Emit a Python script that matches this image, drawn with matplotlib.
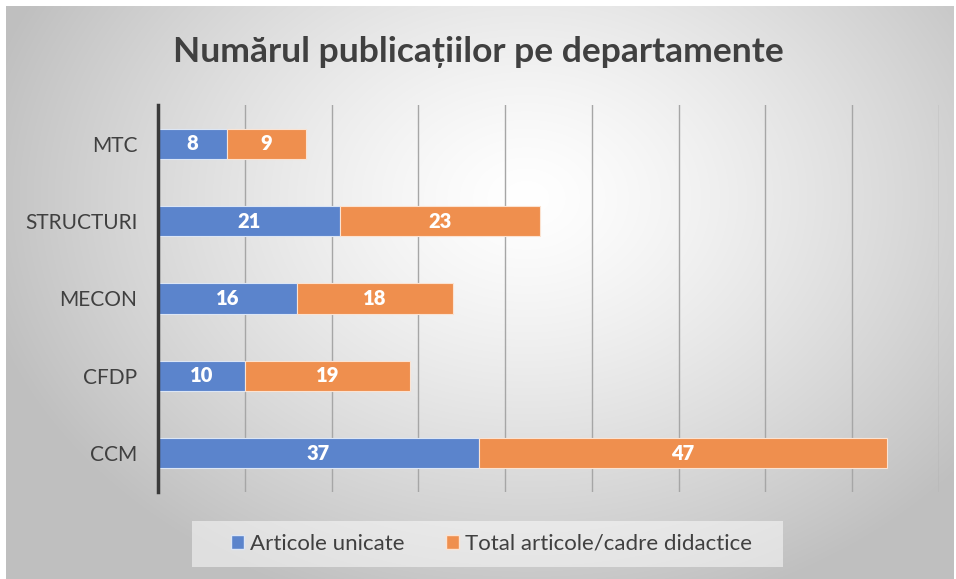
import numpy as np
import matplotlib.pyplot as plt
from matplotlib.patches import Patch, Rectangle

departamente = ['CCM', 'CFDP', 'MECON', 'STRUCTURI', 'MTC']
articole_unicate = [37, 10, 16, 21, 8]
total_articole = [47, 19, 18, 23, 9]

albastru = '#5b84cc'
portocaliu = '#ef8f4e'
text_gri = '#404040'

plt.rcParams['font.family'] = ['Lato', 'DejaVu Sans']

fig = plt.figure(figsize=(9.56, 5.79), dpi=100)
fig.patch.set_facecolor('white')

# fundal cu gradient radial
bg = fig.add_axes([6/956, 0, 948/956, 573/579])
bg.set_axis_off()
h, w = 573, 948
yy, xx = np.mgrid[0:h, 0:w]
cx, cy = 520, 380
r = np.sqrt(((xx - cx) / 560.0) ** 2 + ((yy - cy) / 430.0) ** 2)
r = np.clip(r, 0, 1)
val = 1.0 - 0.25 * r ** 1.3
img = np.dstack([val, val, val])
bg.imshow(img, aspect='auto', extent=[0, 1, 0, 1], origin='lower')
bg.set_xlim(0, 1)
bg.set_ylim(0, 1)

ax = fig.add_axes([158/956, 87/579, 781/956, 387/579])
ax.set_facecolor('none')

y = np.arange(len(departamente))
b1 = ax.barh(y, articole_unicate, height=0.39, color=albastru,
             edgecolor='#dce6f5', linewidth=0.8, zorder=3)
b2 = ax.barh(y, total_articole, left=articole_unicate, height=0.39,
             color=portocaliu, edgecolor='#fbe3d2', linewidth=0.8, zorder=3)

for i in range(len(departamente)):
    ax.text(articole_unicate[i] / 2, y[i], str(articole_unicate[i]),
            ha='center', va='center', color='white', fontsize=14.5,
            fontweight='heavy', zorder=4)
    ax.text(articole_unicate[i] + total_articole[i] / 2, y[i],
            str(total_articole[i]), ha='center', va='center', color='white',
            fontsize=14.5, fontweight='heavy', zorder=4)

ax.set_xlim(0, 90)
ax.set_ylim(-0.5, len(departamente) - 0.5)
ax.set_xticks(np.arange(0, 91, 10))
ax.xaxis.grid(True, color='#a6a6a6', linewidth=1.0, zorder=0)
ax.tick_params(axis='x', length=0, labelbottom=False)
ax.tick_params(axis='y', length=0, pad=15, labelsize=15, labelcolor=text_gri)
ax.set_yticks(y)
ax.set_yticklabels(departamente)
for s in ['top', 'right', 'bottom']:
    ax.spines[s].set_visible(False)
ax.spines['left'].set_color('#3a3a3a')
ax.spines['left'].set_linewidth(2.5)
ax.spines['left'].set_zorder(5)

fig.text(0.5, 1 - 52/579, 'Numărul publicațiilor pe departamente',
         ha='center', va='center', fontsize=25.5, fontweight='bold',
         color=text_gri)

# caseta legendei
fig.patches.append(Rectangle((192/956, 1 - 567/579), 591/956, 46/579,
                             transform=fig.transFigure, facecolor='white',
                             alpha=0.5, edgecolor='none', zorder=1))

handles = [Patch(facecolor=albastru, edgecolor='#dce6f5'),
           Patch(facecolor=portocaliu, edgecolor='#fbe3d2')]
leg = fig.legend(handles, ['Articole unicate', 'Total articole/cadre didactice'],
                 loc='center', bbox_to_anchor=(491.5/956, 1 - 544/579), ncol=2,
                 fontsize=16, frameon=False,
                 handlelength=0.6, handleheight=0.6, handletextpad=0.27,
                 columnspacing=1.85, borderpad=0, borderaxespad=0)
for t in leg.get_texts():
    t.set_color(text_gri)

fig.savefig('out.png', dpi=100)
